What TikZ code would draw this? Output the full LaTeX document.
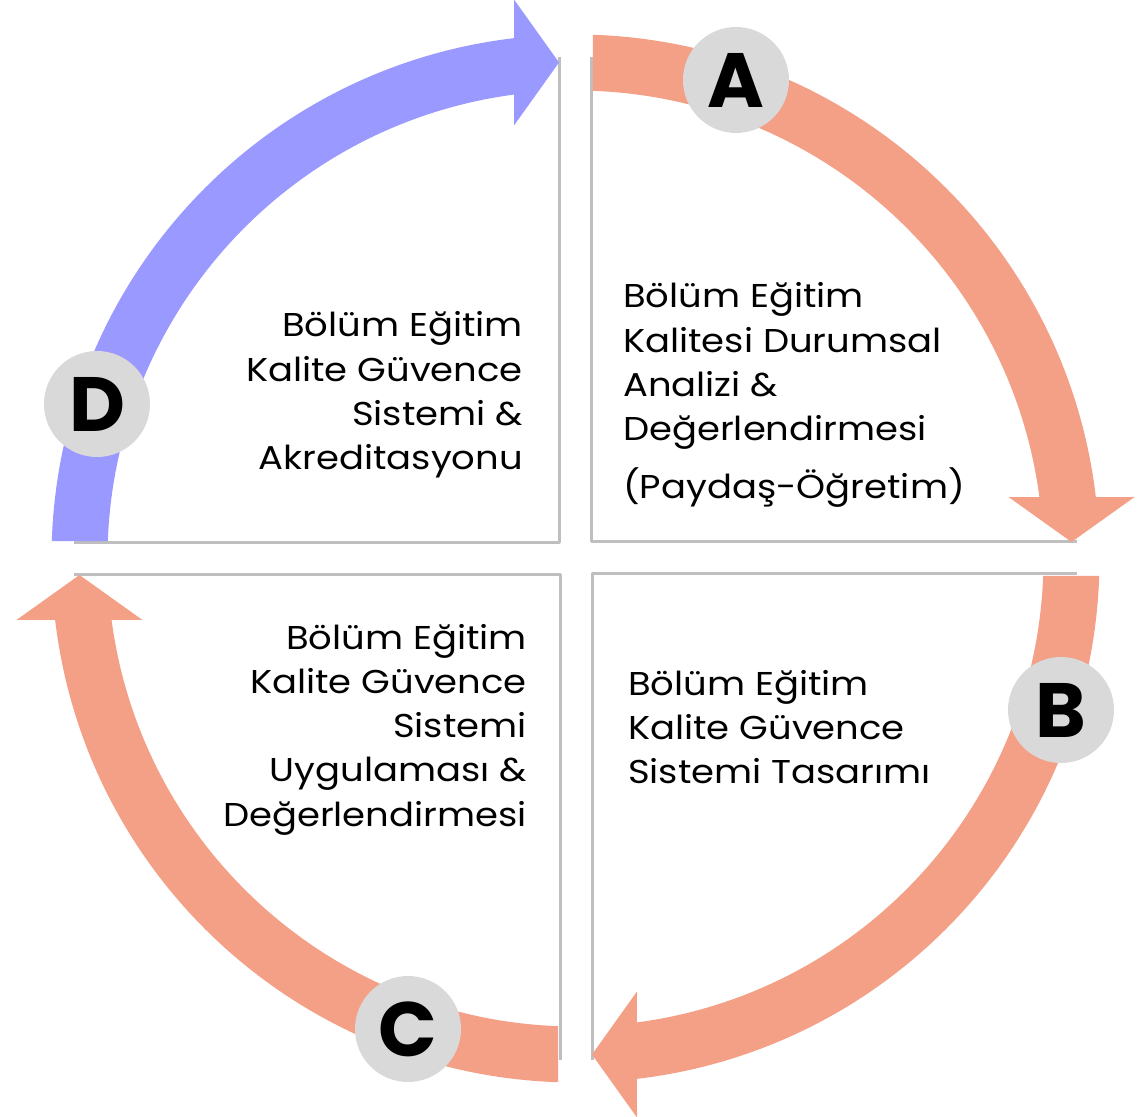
\documentclass[tikz,border=0pt]{standalone}
\usepackage{fontspec}
\setmainfont{Poppins}
\newfontfamily\labelfont{Poppins}[FakeStretch=1.12]
\definecolor{salmon}{HTML}{F3A087}
\definecolor{lilac}{HTML}{9999FF}
\definecolor{boxgray}{HTML}{BFBFBF}
\definecolor{discgray}{HTML}{D9D9D9}
\begin{document}
\begin{tikzpicture}[x=1pt,y=1pt,
  quadline/.style={draw=boxgray, line width=3pt, line join=round},
  disc/.style={circle, fill=discgray, minimum size=106pt, inner sep=0pt,
    font=\fontsize{77}{80}\selectfont\bfseries},
  label/.style={inner sep=0pt, font=\labelfont\fontsize{33}{44.3}\selectfont}]
\useasboundingbox (-575.5,-557.5) rectangle (561.5,558.5);
% quadrant edges
\foreach \r in {0,-90,-180,-270}{
  \draw[quadline, rotate=\r] (15.5,501.5) -- (15.5,16.5) -- (501.5,16.5);
}
% curved arrows
\foreach \r/\col in {0/salmon,-90/salmon,-180/salmon,-270/lilac}{
  \fill[\col, rotate=\r] (88.09:524) arc[start angle=88.09, end angle=6.74, radius=524pt]
    -- (559,61.5) -- (496,16.5) -- (433,61.5) -- (7.55:468)
    arc[start angle=7.55, end angle=87.86, radius=468pt] -- cycle;
}
% discs
\node[disc] (A) at (160.5,478.5) {A};
\node[disc] (B) at (485.5,-151.5) {B};
\node[disc] (C) at (-167.5,-470.5) {C};
\node[disc] (D) at (-478.5,154.5) {D};
% texts
\node[label, anchor=base west] (tA) at (47.5,250.5)
  {\begin{tabular}[t]{@{}l@{}}Bölüm Eğitim\\Kalitesi Durumsal\\Analizi \&\\Değerlendirmesi\\[13pt](Paydaş-Öğretim)\end{tabular}};
\node[label, anchor=base west] (tB) at (52.5,-136.5)
  {\begin{tabular}[t]{@{}l@{}}Bölüm Eğitim\\Kalite Güvence\\Sistemi Tasarımı\end{tabular}};
\node[label, anchor=base east] (tC) at (-48.5,-90.5)
  {\begin{tabular}[t]{@{}r@{}}Bölüm Eğitim\\Kalite Güvence\\Sistemi\\Uygulaması \&\\Değerlendirmesi\end{tabular}};
\node[label, anchor=base east] (tD) at (-52.5,221.5)
  {\begin{tabular}[t]{@{}r@{}}Bölüm Eğitim\\Kalite Güvence\\Sistemi \&\\Akreditasyonu\end{tabular}};
\end{tikzpicture}
\end{document}
